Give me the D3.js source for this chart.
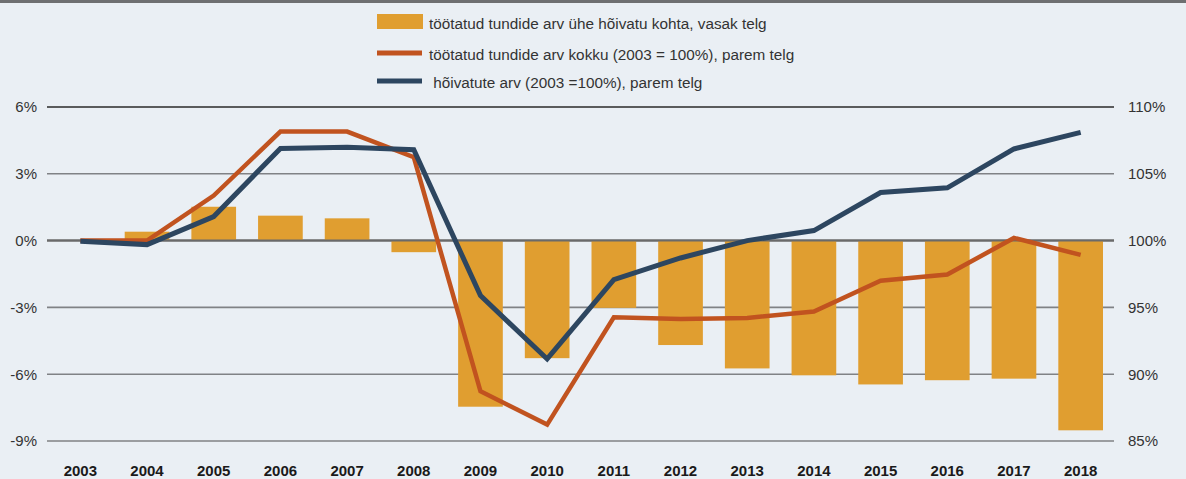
<!DOCTYPE html>
<html><head><meta charset="utf-8">
<script src="https://cdn.jsdelivr.net/npm/d3@7"></script>
<style>
html,body{margin:0;padding:0;background:#eaeff4;}
svg{display:block;font-family:"Liberation Sans",Arial,sans-serif;}
</style></head>
<body><svg id="c" width="1186" height="479"></svg>
<script>
const years = ["2003","2004","2005","2006","2007","2008","2009","2010","2011","2012","2013","2014","2015","2016","2017","2018"];
const hoursPerEmployed = [0, 0.4, 1.52, 1.12, 1.0, -0.52, -7.46, -5.28, -3.02, -4.69, -5.74, -6.05, -6.46, -6.27, -6.2, -8.52];
const hoursTotal = [100, 100.0, 103.37, 108.16, 108.16, 106.24, 88.72, 86.23, 94.26, 94.14, 94.21, 94.69, 97.0, 97.46, 100.2, 98.93];
const employed = [99.95, 99.7, 101.8, 106.9, 106.98, 106.8, 95.88, 91.14, 97.08, 98.7, 100.0, 100.75, 103.6, 103.95, 106.86, 108.1];
const leftTicks = [-9, -6, -3, 0, 3, 6];
const rightTicks = [85, 90, 95, 100, 105, 110];
const legendLabels = ["töötatud tundide arv ühe hõivatu kohta, vasak telg", "töötatud tundide arv kokku (2003 = 100%), parem telg", " hõivatute arv (2003 =100%), parem telg"];

const C_BAR = "#e09e30", C_RED = "#c1531f", C_BLUE = "#2d4660";
const svg = d3.select("#c");
const W = 1186, H = 479;
svg.append("rect").attr("width", W).attr("height", H).attr("fill", "#eaeff4");
svg.append("rect").attr("width", W).attr("height", 3).attr("fill", "#6e6f71");

const x0 = 47, x1 = 1114;
const x = d3.scaleBand().domain(years).range([x0, x1]).paddingInner(0.33).paddingOuter(0.165);
const xc = d => x(d) + x.bandwidth() / 2;
const yL = d3.scaleLinear().domain([-9, 6]).range([441, 107]);
const yR = d3.scaleLinear().domain([85, 110]).range([441, 107]);

// gridlines
const g = svg.append("g");
leftTicks.forEach(t => {
  g.append("line").attr("x1", x0).attr("x2", x1).attr("y1", yL(t)).attr("y2", yL(t))
    .attr("stroke", t === 6 ? "#2a2a2a" : (t === 0 ? "#6a6a6a" : "#808285"))
    .attr("stroke-width", t === 6 ? 1.3 : (t === 0 ? 2 : 1.6));
});

// bars
svg.append("g").selectAll("rect").data(years).join("rect")
  .attr("x", d => x(d))
  .attr("width", x.bandwidth())
  .attr("y", (d, i) => yL(Math.max(0, hoursPerEmployed[i])))
  .attr("height", (d, i) => Math.abs(yL(hoursPerEmployed[i]) - yL(0)))
  .attr("fill", C_BAR);

// redraw 0 line over bars
svg.append("line").attr("x1", x0).attr("x2", x1).attr("y1", yL(0)).attr("y2", yL(0))
  .attr("stroke", "#6a6a6a").attr("stroke-width", 2);

const line = d3.line().x((d, i) => xc(years[i])).y(d => yR(d));
svg.append("path").datum(hoursTotal).attr("d", line).attr("fill", "none")
  .attr("stroke", C_RED).attr("stroke-width", 4.5).attr("stroke-linejoin", "miter");
svg.append("path").datum(employed).attr("d", line).attr("fill", "none")
  .attr("stroke", C_BLUE).attr("stroke-width", 5).attr("stroke-linejoin", "miter");

// axes
const axL = d3.axisLeft(yL).tickValues(leftTicks).tickSize(0).tickPadding(0).tickFormat(d => d + "%");
const gL = svg.append("g").attr("transform", "translate(37,0)").call(axL);
gL.select(".domain").remove();
gL.selectAll("text").attr("font-size", 15).attr("fill", "#333").attr("font-family", "Liberation Sans, Arial, sans-serif");

const axR = d3.axisRight(yR).tickValues(rightTicks).tickSize(0).tickPadding(0).tickFormat(d => d + "%");
const gR = svg.append("g").attr("transform", "translate(1128,0)").call(axR);
gR.select(".domain").remove();
gR.selectAll("text").attr("font-size", 15).attr("fill", "#333").attr("font-family", "Liberation Sans, Arial, sans-serif");

const axB = d3.axisBottom(x).tickSize(0).tickPadding(0);
const gB = svg.append("g").attr("transform", "translate(0,465)").call(axB);
gB.select(".domain").remove();
gB.selectAll("text").attr("font-size", 15).attr("font-weight", "bold").attr("fill", "#1a1a1a")
  .attr("font-family", "Liberation Sans, Arial, sans-serif");

// legend
const lg = svg.append("g");
const rows = [22, 53, 81];
lg.append("rect").attr("x", 377).attr("y", 14).attr("width", 46).attr("height", 15).attr("fill", C_BAR);
lg.append("line").attr("x1", 377).attr("x2", 422).attr("y1", rows[1]).attr("y2", rows[1]).attr("stroke", C_RED).attr("stroke-width", 5);
lg.append("line").attr("x1", 377).attr("x2", 422).attr("y1", rows[2]).attr("y2", rows[2]).attr("stroke", C_BLUE).attr("stroke-width", 5);
legendLabels.forEach((t, i) => {
  lg.append("text").attr("x", 429).attr("y", rows[i] + 6.5).attr("font-size", 15.3).attr("fill", "#333")
    .attr("xml:space", "preserve").style("white-space", "pre").text(t);
});
</script></body></html>
